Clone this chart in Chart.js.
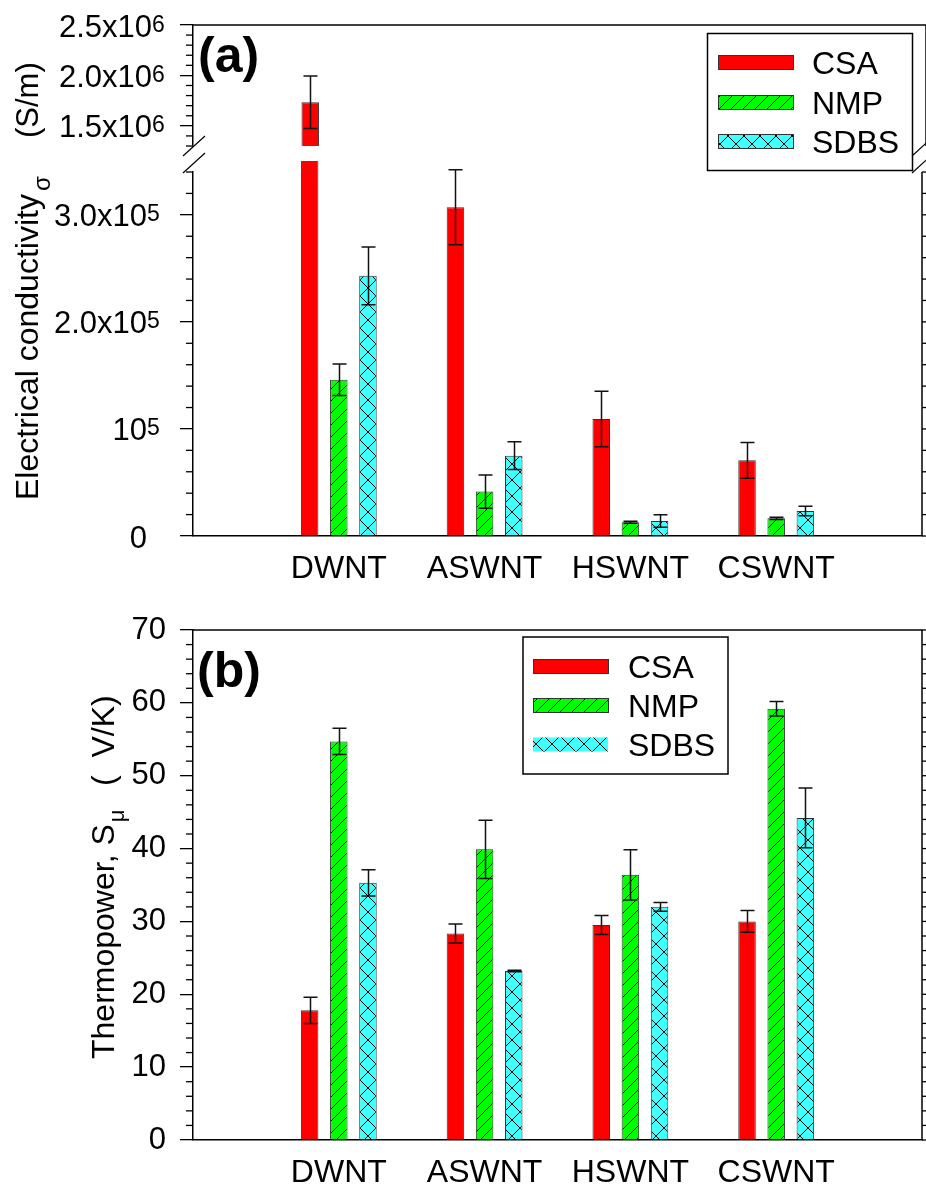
<!DOCTYPE html>
<html><head><meta charset="utf-8">
<script src="https://cdn.jsdelivr.net/npm/chart.js@4.4.0/dist/chart.umd.min.js"></script>
<style>
html,body{margin:0;padding:0;background:#fff;}
#wrap{position:relative;width:926px;height:1191px;overflow:hidden;background:#fff;}
canvas{position:absolute;left:0;top:0;}
</style></head><body>
<div id="wrap">
<canvas id="cA1" width="926" height="1191"></canvas>
<canvas id="cA2" width="926" height="1191"></canvas>
<canvas id="cB" width="926" height="1191"></canvas>
</div>
<script>
// ---------- data ----------
const categories = ['DWNT', 'ASWNT', 'HSWNT', 'CSWNT'];
const seriesNames = ['CSA', 'NMP', 'SDBS'];

// Panel (a): electrical conductivity (S/m)
const condCSA  = [1.733e6, 3.07e5, 1.093e5, 7.07e4];
const condNMP  = [1.46e5, 4.15e4, 1.28e4, 1.65e4];
const condSDBS = [2.43e5, 7.5e4, 1.40e4, 2.33e4];
const condErrCSA  = [2.6e5, 3.5e4, 2.6e4, 1.67e4];
const condErrNMP  = [1.47e4, 1.55e4, 1.0e3, 1.0e3];
const condErrSDBS = [2.7e4, 1.3e4, 5.8e3, 4.4e3];

// Panel (b): thermopower (µV/K)
const thermoCSA  = [17.8, 28.35, 29.5, 30.0];
const thermoNMP  = [54.7, 39.9, 36.4, 59.2];
const thermoSDBS = [35.3, 23.2, 32.0, 44.2];
const thermoErrCSA  = [1.8, 1.3, 1.3, 1.5];
const thermoErrNMP  = [1.8, 4.0, 3.45, 1.0];
const thermoErrSDBS = [1.8, 0.1, 0.6, 4.1];

// tick values / labels
const condUpperTicks = [1.5e6, 2.0e6, 2.5e6];
const condUpperTickLabels = [['1.5x10', '6'], ['2.0x10', '6'], ['2.5x10', '6']];
const condLowerTicks = [0, 1e5, 2e5, 3e5];
const condLowerTickLabels = [['0', ''], ['10', '5'], ['2.0x10', '5'], ['3.0x10', '5']];
const thermoTicks = [0, 10, 20, 30, 40, 50, 60, 70];

// ---------- setup ----------
const FONT = "'Liberation Sans', Arial, Helvetica, sans-serif";
Chart.defaults.font.family = FONT;
Chart.defaults.color = '#000';
const RED = '#ff0000', GREEN = '#00ff00', CYAN = '#40ffff';

function padded(arr) { return [null].concat(arr, [null]); }
const xLabels = [''].concat(categories, ['']);

function makeHatch(ctx, bg) {
  const c = document.createElement('canvas'); c.width = 12; c.height = 12;
  const g = c.getContext('2d');
  g.fillStyle = bg; g.fillRect(0, 0, 12, 12);
  g.strokeStyle = '#000'; g.lineWidth = 1;
  g.beginPath();
  g.moveTo(0, 12); g.lineTo(12, 0);
  g.moveTo(-1, 1); g.lineTo(1, -1);
  g.moveTo(11, 13); g.lineTo(13, 11);
  g.stroke();
  return ctx.createPattern(c, 'repeat');
}
function makeCross(ctx, bg) {
  const s = 16;
  const c = document.createElement('canvas'); c.width = s; c.height = s;
  const g = c.getContext('2d');
  g.fillStyle = bg; g.fillRect(0, 0, s, s);
  g.strokeStyle = '#000'; g.lineWidth = 1;
  g.beginPath();
  g.moveTo(0, 0); g.lineTo(s, s);
  g.moveTo(s, 0); g.lineTo(0, s);
  g.stroke();
  return ctx.createPattern(c, 'repeat');
}

function buildDatasets(ctx, values, errors, clip) {
  const fills = [RED, makeHatch(ctx, GREEN), makeCross(ctx, CYAN)];
  return seriesNames.map((name, i) => ({
    label: name,
    data: padded(values[i]),
    errs: padded(errors[i]),
    backgroundColor: fills[i],
    borderColor: '#333',
    borderWidth: 1,
    categoryPercentage: 0.6,
    barPercentage: 0.6,
    clip: clip
  }));
}

function yAxis(min, max, majors, showLabels) {
  return {
    type: 'linear', min: min, max: max,
    afterBuildTicks: s => { s.ticks = majors.map(v => ({ value: v })); },
    afterFit: s => { s.width = 193; },
    border: { display: true, color: '#000', width: 1.5 },
    grid: { display: true, drawOnChartArea: false, drawTicks: true, tickLength: 13, color: '#000', lineWidth: 1.3 },
    ticks: { display: showLabels, font: { size: 31 }, color: '#000', padding: 14 }
  };
}
function xAxis(show, h) {
  return {
    type: 'category', offset: false, display: show,
    grid: { display: true, drawOnChartArea: false, drawTicks: true, tickLength: 10, color: 'rgba(0,0,0,0)' },
    border: { display: true, color: '#000', width: 1.5 },
    ticks: { font: { size: 32 }, color: '#000', padding: 4, maxRotation: 0, autoSkip: false },
    afterFit: s => { s.height = h; }
  };
}

// ---------- drawing helpers ----------
function line(ctx, x1, y1, x2, y2) { ctx.beginPath(); ctx.moveTo(x1, y1); ctx.lineTo(x2, y2); ctx.stroke(); }

function drawErrorBars(chart, extraTop) {
  const ctx = chart.ctx, a = chart.chartArea, ys = chart.scales.y;
  ctx.save();
  ctx.beginPath();
  ctx.rect(a.left, a.top - extraTop, a.right - a.left, a.bottom - a.top + extraTop);
  ctx.clip();
  ctx.strokeStyle = '#111'; ctx.lineWidth = 1.5;
  chart.data.datasets.forEach((ds, i) => {
    const meta = chart.getDatasetMeta(i);
    ds.data.forEach((v, j) => {
      const e = ds.errs[j];
      if (v == null || e == null) return;
      const x = Math.round(meta.data[j].x) + 0.5;
      const yt = ys.getPixelForValue(v + e), yb = ys.getPixelForValue(v - e);
      ctx.beginPath();
      ctx.moveTo(x, yt); ctx.lineTo(x, yb);
      ctx.moveTo(x - 7, yt); ctx.lineTo(x + 7, yt);
      ctx.moveTo(x - 7, yb); ctx.lineTo(x + 7, yb);
      ctx.stroke();
    });
  });
  ctx.restore();
}

function drawMinorTicks(chart, step) {
  const ys = chart.scales.y, a = chart.chartArea, ctx = chart.ctx;
  ctx.save(); ctx.strokeStyle = '#000'; ctx.lineWidth = 1.3;
  const n = Math.round((ys.max - ys.min) / step);
  for (let k = 0; k <= n; k++) {
    const v = ys.min + k * step;
    const y = ys.getPixelForValue(v);
    const major = ys.ticks.some(t => Math.abs(t.value - v) < step * 0.01);
    if (!major) line(ctx, a.left - 7, y, a.left, y);
    line(ctx, a.right, y, a.right + (major ? 13 : 7), y);
  }
  ctx.restore();
}

function drawFrame(chart, top) {
  const ctx = chart.ctx, a = chart.chartArea;
  ctx.save(); ctx.strokeStyle = '#000'; ctx.lineWidth = 1.5;
  if (top) line(ctx, a.left, a.top, a.right + 0.75, a.top);
  line(ctx, a.right, a.top, a.right, a.bottom);
  ctx.restore();
}

function drawSupLabels(chart, values, labels, mantRight) {
  const ctx = chart.ctx, ys = chart.scales.y;
  ctx.save(); ctx.fillStyle = '#000'; ctx.textBaseline = 'alphabetic'; ctx.textAlign = 'left';
  values.forEach((v, i) => {
    const y = ys.getPixelForValue(v);
    const [m, s] = labels[i];
    ctx.font = '31px ' + FONT;
    const wm = ctx.measureText(m).width;
    ctx.fillText(m, mantRight - wm, y + 11.5);
    if (s) { ctx.font = '23px ' + FONT; ctx.fillText(s, mantRight, y + 6.5); }
  });
  ctx.restore();
}

function drawLegend(chart, box, swX, swW, textX, rows, swBorder) {
  const ctx = chart.ctx;
  ctx.save();
  ctx.fillStyle = '#fff'; ctx.fillRect(box.x, box.y, box.w, box.h);
  ctx.strokeStyle = '#000'; ctx.lineWidth = 1.5; ctx.strokeRect(box.x, box.y, box.w, box.h);
  chart.data.datasets.forEach((ds, i) => {
    const y = rows[i];
    ctx.fillStyle = ds.backgroundColor;
    ctx.fillRect(swX, y - 7, swW, 14);
    if (swBorder[i]) { ctx.strokeStyle = '#333'; ctx.lineWidth = 1; ctx.strokeRect(swX + 0.5, y - 7 + 0.5, swW, 14); }
    ctx.fillStyle = '#000'; ctx.font = '32px ' + FONT; ctx.textAlign = 'left'; ctx.textBaseline = 'alphabetic';
    ctx.fillText(ds.label, textX, y + 11.5);
  });
  ctx.restore();
}

function rotText(ctx, text, x, y, font) {
  ctx.save(); ctx.translate(x, y); ctx.rotate(-Math.PI / 2);
  ctx.font = font; ctx.fillStyle = '#000'; ctx.textAlign = 'left'; ctx.textBaseline = 'alphabetic';
  ctx.fillText(text, 0, 0);
  const w = ctx.measureText(text).width;
  ctx.restore();
  return w;
}

function panelLabel(ctx, text, x, y) {
  ctx.save(); ctx.font = 'bold 50px ' + FONT; ctx.fillStyle = '#000'; ctx.textBaseline = 'alphabetic';
  ctx.fillText(text, x, y); ctx.restore();
}

function breakMarks(ctx, x) {
  ctx.save(); ctx.strokeStyle = '#000'; ctx.lineWidth = 1.2;
  line(ctx, x - 10, 156, x + 12, 136);
  line(ctx, x - 10, 173, x + 12, 153);
  ctx.restore();
}

// ---------- chart (a) upper ----------
const ctxA1 = document.getElementById('cA1').getContext('2d');
new Chart(ctxA1, {
  type: 'bar',
  data: { labels: xLabels, datasets: buildDatasets(ctxA1, [condCSA, condNMP, condSDBS], [condErrCSA, condErrNMP, condErrSDBS], 0) },
  options: {
    responsive: false, animation: false, devicePixelRatio: 1,
    layout: { padding: { left: 0, right: 0, top: 25, bottom: 1191 - 146 } },
    scales: { x: xAxis(false, 0), y: yAxis(1.3e6, 2.5e6, condUpperTicks, false) },
    plugins: { legend: { display: false }, tooltip: { enabled: false } }
  },
  plugins: [{
    id: 'decorA1',
    afterDatasetsDraw(chart) { drawErrorBars(chart, 0); },
    afterDraw(chart) {
      drawMinorTicks(chart, 1e5);
      drawFrame(chart, true);
      drawSupLabels(chart, condUpperTicks, condUpperTickLabels, 152);
      drawLegend(chart, { x: 707.5, y: 33.5, w: 205, h: 137 }, 718, 75, 812, [62, 102, 141], [true, true, true]);
      panelLabel(chart.ctx, '(a)', 198, 72);
    }
  }]
});

// ---------- chart (a) lower ----------
const ctxA2 = document.getElementById('cA2').getContext('2d');
new Chart(ctxA2, {
  type: 'bar',
  data: { labels: xLabels, datasets: buildDatasets(ctxA2, [condCSA, condNMP, condSDBS], [condErrCSA, condErrNMP, condErrSDBS], { left: 0, right: 0, bottom: 0, top: 11 }) },
  options: {
    responsive: false, animation: false, devicePixelRatio: 1,
    layout: { padding: { left: 0, right: 0, top: 172, bottom: 1191 - 536 - 60 } },
    scales: { x: xAxis(true, 60), y: yAxis(0, 3.4e5, condLowerTicks, false) },
    plugins: { legend: { display: false }, tooltip: { enabled: false } }
  },
  plugins: [{
    id: 'decorA2',
    afterDatasetsDraw(chart) { drawErrorBars(chart, 11); },
    afterDraw(chart) {
      const ctx = chart.ctx;
      drawMinorTicks(chart, 2e4);
      drawFrame(chart, false);
      drawSupLabels(chart, condLowerTicks, condLowerTickLabels, 147);
      const w = rotText(ctx, 'Electrical conductivity', 38, 500, '32px ' + FONT);
      rotText(ctx, 'σ', 50, 500 - w - 3, '24px ' + FONT);
      rotText(ctx, '(S/m)', 38, 138, '31px ' + FONT);
      breakMarks(ctx, 193);
      breakMarks(ctx, chart.chartArea.right);
    }
  }]
});

// ---------- chart (b) ----------
const ctxB = document.getElementById('cB').getContext('2d');
new Chart(ctxB, {
  type: 'bar',
  data: { labels: xLabels, datasets: buildDatasets(ctxB, [thermoCSA, thermoNMP, thermoSDBS], [thermoErrCSA, thermoErrNMP, thermoErrSDBS], 0) },
  options: {
    responsive: false, animation: false, devicePixelRatio: 1,
    layout: { padding: { left: 0, right: 0, top: 630, bottom: 0 } },
    scales: { x: xAxis(true, 51), y: yAxis(0, 70, thermoTicks, true) },
    plugins: { legend: { display: false }, tooltip: { enabled: false } }
  },
  plugins: [{
    id: 'decorB',
    afterDatasetsDraw(chart) { drawErrorBars(chart, 0); },
    afterDraw(chart) {
      const ctx = chart.ctx;
      drawMinorTicks(chart, 2);
      drawFrame(chart, true);
      drawLegend(chart, { x: 523, y: 637, w: 205, h: 137 }, 533, 75, 628, [666, 705, 744.5], [true, true, false]);
      panelLabel(ctx, '(b)', 197, 687);
      const w = rotText(ctx, 'Thermopower, S', 114, 1059, '32px ' + FONT);
      rotText(ctx, 'μ', 124, 1059 - w - 2, '22px ' + FONT);
      rotText(ctx, '(  V/K)', 114, 786, '32px ' + FONT);
    }
  }]
});
</script>
</body></html>
